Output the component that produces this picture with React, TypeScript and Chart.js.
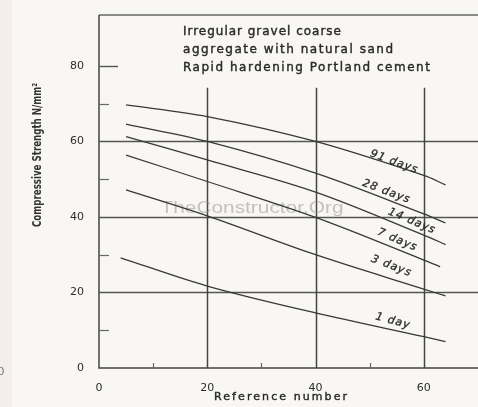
import React, { useEffect, useRef } from "react";
import { Chart, registerables } from "chart.js";

Chart.register(...registerables);

// ---- data ----
const x91 = [5, 20, 40, 60, 64];
const y91 = [69.7, 66.6, 60.0, 51.0, 48.5];
const x28 = [5, 20, 40, 60, 64];
const y28 = [64.6, 60.0, 51.6, 40.8, 38.4];
const x14 = [5, 20, 40, 60, 64];
const y14 = [61.3, 55.1, 46.6, 35.2, 32.7];
const x7 = [5, 20, 40, 60, 63];
const y7 = [56.4, 49.4, 39.9, 28.6, 26.8];
const x3 = [5, 20, 40, 60, 64];
const y3 = [47.2, 40.3, 30.0, 20.9, 19.1];
const x1 = [4, 20, 40, 60, 64];
const y1 = [29.2, 21.7, 14.6, 8.3, 7.0];

const seriesNames = ["91 days", "28 days", "14 days", "7 days", "3 days", "1 day"];
const xTicks = [0, 20, 40, 60];
const yTicks = [0, 20, 40, 60, 80];
const xMinorTicks = [10, 30, 50];
const yMinorTicks = [10, 30, 50, 70];
const yGridFull = [20, 40, 60];
const yGridShort = [80];
const xGrid = [20, 40, 60];
const xGridTop = 74.2;

const noteLines = [
  "Irregular gravel coarse",
  "aggregate with natural sand",
  "Rapid hardening Portland cement",
];
const xTitle = "Reference number";
const yTitle = "Compressive Strength N/mm\u00B2";
const watermark = "TheConstructor.Org";

// label anchors (data coords) and angles (deg)
const labelLayout = [
  { x: 54.5, y: 54.6, a: 20 },
  { x: 53.1, y: 46.7, a: 20.5 },
  { x: 57.8, y: 38.9, a: 23 },
  { x: 55.1, y: 33.9, a: 23 },
  { x: 54.0, y: 27.0, a: 21 },
  { x: 54.3, y: 12.4, a: 15 },
];

const toPts = (xs: number[], ys: number[]) => xs.map((x, i) => ({ x, y: ys[i] }));

const INK = "#2a2a2a";
const GRID = "#444444";

function boldText(ctx: any, t: string, x: number, y: number, w = 0.35) {
  ctx.fillText(t, x, y);
  ctx.lineWidth = w;
  ctx.strokeStyle = ctx.fillStyle;
  ctx.strokeText(t, x, y);
}

const drawPlugin = {
  id: "refDraw",
  beforeDraw(chart: any) {
    const { ctx, width, height } = chart;
    ctx.save();
    ctx.fillStyle = "#f8f7f4";
    ctx.fillRect(0, 0, width, height);
    ctx.fillStyle = "#f3eeeb";
    ctx.fillRect(0, 0, 12, height);
    ctx.fillStyle = "#777";
    ctx.font = "11px 'DejaVu Sans'";
    ctx.textAlign = "center";
    ctx.textBaseline = "middle";
    ctx.fillText("0", 1, 372);
    ctx.restore();
  },
  beforeDatasetsDraw(chart: any) {
    const { ctx, chartArea } = chart;
    const xs = chart.scales.x;
    const ys = chart.scales.y;
    const x0 = xs.getPixelForValue(0);
    const y0 = ys.getPixelForValue(0);
    ctx.save();
    // frame
    ctx.strokeStyle = "#666";
    ctx.lineWidth = 1.5;
    ctx.beginPath();
    ctx.moveTo(x0, chartArea.top);
    ctx.lineTo(chartArea.right, chartArea.top);
    ctx.stroke();
    ctx.strokeStyle = GRID;
    ctx.lineWidth = 1.5;
    ctx.beginPath();
    ctx.moveTo(x0, chartArea.top);
    ctx.lineTo(x0, y0);
    ctx.lineTo(chartArea.right, y0);
    ctx.stroke();
    // horizontal full grid
    ctx.lineWidth = 1.4;
    ctx.strokeStyle = "#555";
    yGridFull.forEach((v) => {
      const py = Math.round(ys.getPixelForValue(v)) + 0.5;
      ctx.beginPath();
      ctx.moveTo(x0, py);
      ctx.lineTo(chartArea.right, py);
      ctx.stroke();
    });
    // short grid at 80
    yGridShort.forEach((v) => {
      const py = Math.round(ys.getPixelForValue(v)) + 0.5;
      ctx.beginPath();
      ctx.moveTo(x0, py);
      ctx.lineTo(x0 + 19, py);
      ctx.stroke();
    });
    // minor y ticks
    ctx.lineWidth = 1.2;
    ctx.strokeStyle = "#666";
    yMinorTicks.forEach((v) => {
      const py = Math.round(ys.getPixelForValue(v)) + 0.5;
      ctx.beginPath();
      ctx.moveTo(x0, py);
      ctx.lineTo(x0 + 10, py);
      ctx.stroke();
    });
    // minor x ticks
    xMinorTicks.forEach((v) => {
      const px = Math.round(xs.getPixelForValue(v)) + 0.5;
      ctx.beginPath();
      ctx.moveTo(px, y0);
      ctx.lineTo(px, y0 - 5);
      ctx.stroke();
    });
    // vertical grid
    ctx.lineWidth = 1.5;
    ctx.strokeStyle = GRID;
    const yt = ys.getPixelForValue(xGridTop);
    xGrid.forEach((v) => {
      const px = Math.round(xs.getPixelForValue(v)) + 0.5;
      ctx.beginPath();
      ctx.moveTo(px, y0);
      ctx.lineTo(px, yt);
      ctx.stroke();
    });

    // notes
    ctx.fillStyle = INK;
    ctx.textAlign = "left";
    ctx.textBaseline = "middle";
    ctx.font = "12px 'DejaVu Sans'";
    const noteY = [32, 49.5, 68];
    const noteW = [158, 210, 247];
    noteLines.forEach((t, i) => {
      (ctx as any).letterSpacing = "0px";
      const w = ctx.measureText(t).width;
      const ls = (noteW[i] - w) / Math.max(1, t.length - 1);
      (ctx as any).letterSpacing = ls.toFixed(2) + "px";
      boldText(ctx, t, 183, noteY[i], 0.4);
    });
    (ctx as any).letterSpacing = "0px";

    // y title
    ctx.save();
    ctx.translate(38, 155);
    ctx.rotate(-Math.PI / 2);
    ctx.font = "bold 12px 'Liberation Sans Narrow', 'DejaVu Sans Condensed', sans-serif";
    const tw = ctx.measureText(yTitle).width;
    const sx = 144 / tw;
    ctx.scale(sx, 1);
    ctx.textAlign = "center";
    ctx.fillStyle = "#333";
    ctx.fillText(yTitle, 0, 0);
    ctx.restore();

    // x title
    ctx.font = "11px 'DejaVu Sans'";
    ctx.textAlign = "left";
    ctx.fillStyle = INK;
    {
      const w = ctx.measureText(xTitle).width;
      const ls = (133 - w) / (xTitle.length - 1);
      (ctx as any).letterSpacing = ls.toFixed(2) + "px";
      boldText(ctx, xTitle, 214, 397, 0.4);
      (ctx as any).letterSpacing = "0px";
    }

    // watermark
    ctx.font = "17px 'Liberation Sans', Arial, sans-serif";
    ctx.fillStyle = "rgba(150,150,150,0.55)";
    ctx.textAlign = "center";
    {
      const w = ctx.measureText(watermark).width;
      ctx.save();
      ctx.translate(252, 208);
      ctx.scale(183 / w, 1);
      ctx.fillText(watermark, 0, 0);
      ctx.restore();
    }
    ctx.restore();
  },
  afterDatasetsDraw(chart: any) {
    const { ctx } = chart;
    const xs = chart.scales.x;
    const ys = chart.scales.y;
    ctx.save();
    ctx.fillStyle = INK;
    ctx.font = "italic 11px 'DejaVu Sans'";
    ctx.textAlign = "center";
    ctx.textBaseline = "middle";
    (ctx as any).letterSpacing = "1px";
    seriesNames.forEach((name, i) => {
      const L = labelLayout[i];
      ctx.save();
      ctx.translate(xs.getPixelForValue(L.x), ys.getPixelForValue(L.y));
      ctx.rotate((L.a * Math.PI) / 180);
      boldText(ctx, name, 0, 0, 0.3);
      ctx.restore();
    });
    ctx.restore();
  },
};

export default function App() {
  const ref = useRef<HTMLCanvasElement | null>(null);
  useEffect(() => {
    document.body.style.margin = "0";
    if (!ref.current) return;
    const xsArr = [x91, x28, x14, x7, x3, x1];
    const ysArr = [y91, y28, y14, y7, y3, y1];
    const chart = new Chart(ref.current, {
      type: "line",
      data: {
        datasets: seriesNames.map((name, i) => ({
          label: name,
          data: toPts(xsArr[i], ysArr[i]),
          borderColor: "#383838",
          borderWidth: 1.3,
          pointRadius: 0,
          fill: false,
          tension: 0.35,
        })),
      },
      options: {
        responsive: false,
        animation: false,
        layout: { padding: { top: 15, left: 0, right: 0, bottom: 0 } },
        plugins: { legend: { display: false }, tooltip: { enabled: false } },
        scales: {
          x: {
            type: "linear",
            min: 0,
            max: 70,
            grid: { display: false },
            border: { display: false },
            afterBuildTicks: (s: any) => {
              s.ticks = xTicks.map((v) => ({ value: v }));
            },
            afterFit: (s: any) => {
              s.height = 39;
            },
            ticks: {
              padding: 6,
              color: "#2e2e2e",
              font: { family: "'DejaVu Sans'", size: 11 },
              maxRotation: 0,
            },
          },
          y: {
            type: "linear",
            min: 0,
            max: 93.5,
            grid: { display: false },
            border: { display: false },
            afterBuildTicks: (s: any) => {
              s.ticks = yTicks.map((v) => ({ value: v }));
            },
            afterFit: (s: any) => {
              s.width = 99;
            },
            ticks: {
              padding: 7,
              color: "#2e2e2e",
              font: { family: "'DejaVu Sans'", size: 11 },
            },
          },
        },
      },
      plugins: [drawPlugin],
    });
    return () => chart.destroy();
  }, []);
  return (
    <div style={{ width: 478, height: 407 }}>
      <canvas ref={ref} width={478} height={407} style={{ display: "block" }} />
    </div>
  );
}
